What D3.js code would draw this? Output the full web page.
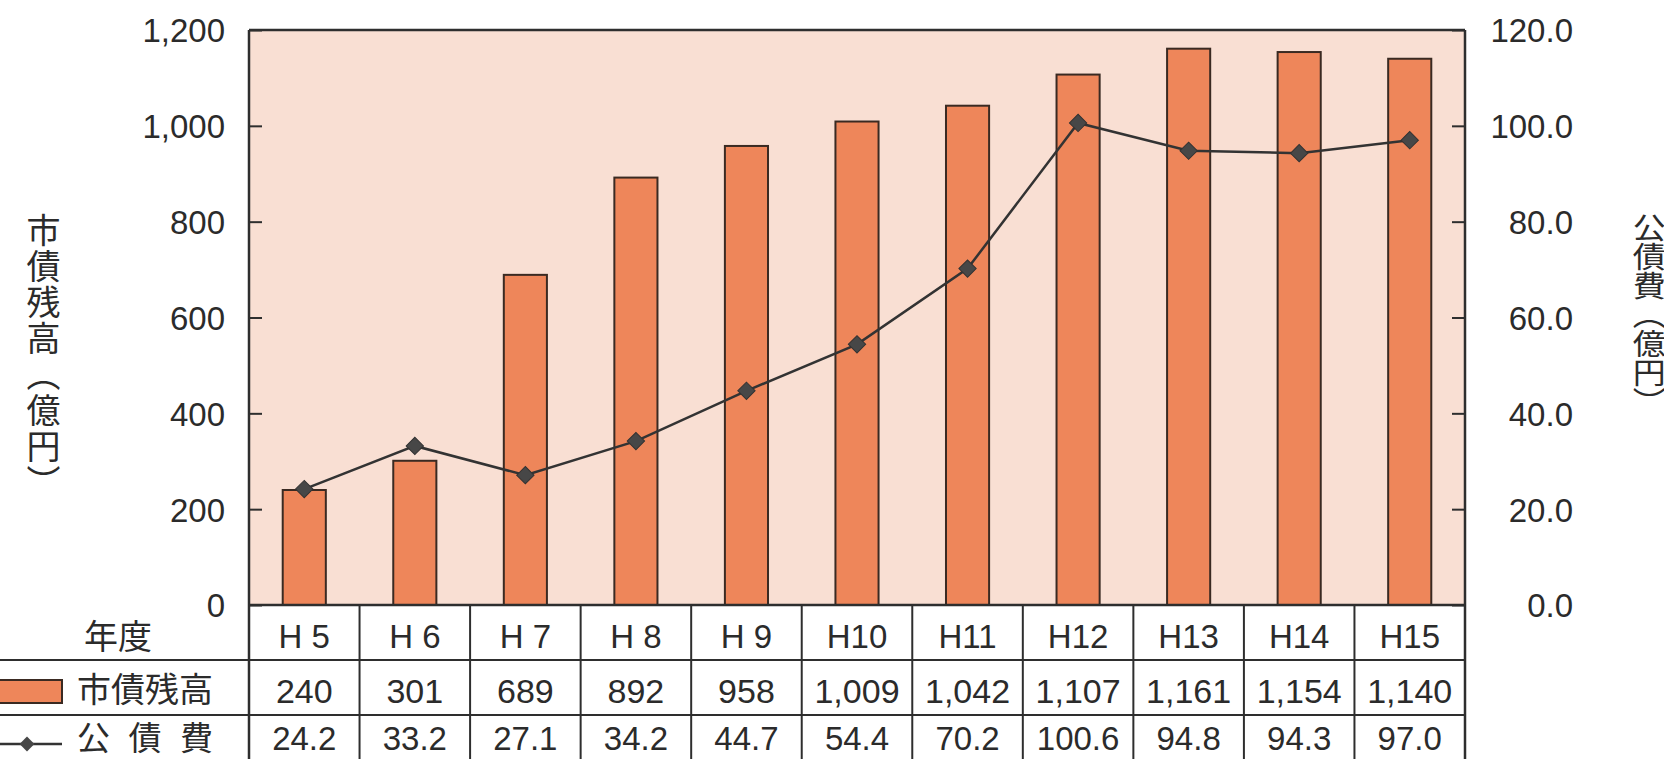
<!DOCTYPE html>
<html><head><meta charset="utf-8">
<script src="https://cdn.jsdelivr.net/npm/d3@7"></script>
<style>
html,body{margin:0;padding:0;background:#fff;}
svg{display:block;}
text{font-family:"Liberation Sans","Noto Sans CJK JP",sans-serif;fill:#2b2b2b;}
</style></head><body>
<svg id="chart" width="1664" height="759"></svg>
<script>
// ---- data ----
const years = ["H 5","H 6","H 7","H 8","H 9","H10","H11","H12","H13","H14","H15"];
const debtBalance = [240,301,689,892,958,1009,1042,1107,1161,1154,1140];   // 市債残高 (億円)
const debtService = [24.2,33.2,27.1,34.2,44.7,54.4,70.2,100.6,94.8,94.3,97.0]; // 公債費 (億円)
const leftTicks = [0,200,400,600,800,1000,1200];
const rightTicks = [0,20,40,60,80,100,120];
const headerLabel = "年度";
const seriesNames = ["市債残高","公債費"];
const leftTitle = "市債残高（億円）";
const rightTitle = "公債費（億円）";

// ---- layout ----
const W = 1664, H = 759;
const plotL = 249, plotR = 1465, plotT = 30, plotB = 605;
const rowH = 55;
const rows = [plotB, plotB + rowH, plotB + 2*rowH, plotB + 3*rowH];
const barColor = "#ee865a", bgColor = "#f9dfd3", ink = "#2e2e2e";

const svg = d3.select("#chart");

const x = d3.scaleBand().domain(years).range([plotL, plotR]).padding(0);
const yL = d3.scaleLinear().domain([0,1200]).range([plotB, plotT]);
const yR = d3.scaleLinear().domain([0,120]).range([plotB, plotT]);
const barW = x.bandwidth() * 0.39;

// plot background
svg.append("rect").attr("x", plotL).attr("y", plotT)
  .attr("width", plotR - plotL).attr("height", plotB - plotT).attr("fill", bgColor);

// bars
svg.append("g").selectAll("rect").data(years).join("rect")
  .attr("x", d => x(d) + x.bandwidth()/2 - barW/2)
  .attr("y", (d,i) => yL(debtBalance[i]))
  .attr("width", barW)
  .attr("height", (d,i) => plotB - yL(debtBalance[i]))
  .attr("fill", barColor).attr("stroke", "#3a2a22").attr("stroke-width", 2);

// line
const line = d3.line().x((d,i) => x(years[i]) + x.bandwidth()/2).y(d => yR(d));
svg.append("path").datum(debtService).attr("d", line)
  .attr("fill", "none").attr("stroke", "#333").attr("stroke-width", 2.5);
svg.append("g").selectAll("path").data(debtService).join("path")
  .attr("d", d3.symbol().type(d3.symbolSquare).size(150))
  .attr("transform", (d,i) => `translate(${x(years[i]) + x.bandwidth()/2},${yR(d)}) rotate(45)`)
  .attr("fill", "#474747").attr("stroke", "#333").attr("stroke-width", 1);

// left axis (inward ticks)
const axL = svg.append("g").attr("transform", `translate(${plotL},0)`)
  .call(d3.axisLeft(yL).tickValues(leftTicks).tickSize(-13).tickPadding(24).tickFormat(d3.format(",")));
axL.select(".domain").remove();
axL.selectAll("line").attr("stroke", ink).attr("stroke-width", 2);
axL.selectAll("text").attr("font-size", 33).attr("fill", "#2b2b2b").attr("dy", "0.36em");

// right axis
const axR = svg.append("g").attr("transform", `translate(${plotR},0)`)
  .call(d3.axisRight(yR).tickValues(rightTicks).tickSize(-13).tickFormat(d3.format(".1f")));
axR.select(".domain").remove();
axR.selectAll("line").attr("stroke", ink).attr("stroke-width", 2);
axR.selectAll("text").attr("font-size", 33).attr("fill", "#2b2b2b")
  .attr("text-anchor", "end").attr("x", 108).attr("dy", "0.36em");

// frame
svg.append("line").attr("x1", plotL).attr("x2", plotR).attr("y1", plotT).attr("y2", plotT)
  .attr("stroke", ink).attr("stroke-width", 2.5);
svg.append("line").attr("x1", plotL).attr("x2", plotR).attr("y1", plotB).attr("y2", plotB)
  .attr("stroke", ink).attr("stroke-width", 2.5);
svg.append("line").attr("x1", plotL).attr("x2", plotL).attr("y1", plotT).attr("y2", rows[3])
  .attr("stroke", ink).attr("stroke-width", 2.5);
svg.append("line").attr("x1", plotR).attr("x2", plotR).attr("y1", plotT).attr("y2", rows[3])
  .attr("stroke", ink).attr("stroke-width", 2.5);

// table grid
svg.append("g").selectAll("line").data(years.slice(1)).join("line")
  .attr("x1", d => x(d)).attr("x2", d => x(d))
  .attr("y1", plotB).attr("y2", rows[3])
  .attr("stroke", ink).attr("stroke-width", 2);
[rows[1], rows[2]].forEach(yy => {
  svg.append("line").attr("x1", 0).attr("x2", plotR).attr("y1", yy).attr("y2", yy)
    .attr("stroke", ink).attr("stroke-width", 2);
});

// table texts
const fmtInt = d3.format(",");
const fmt1 = d3.format(".1f");
const cx = d => x(d) + x.bandwidth()/2;
svg.append("g").selectAll("text").data(years).join("text")
  .attr("x", cx).attr("y", (rows[0]+rows[1])/2 + 4).attr("dy", "0.36em")
  .attr("text-anchor", "middle").attr("font-size", 33).text(d => d);
svg.append("g").selectAll("text").data(years).join("text")
  .attr("x", cx).attr("y", (rows[1]+rows[2])/2 + 3).attr("dy", "0.36em")
  .attr("text-anchor", "middle").attr("font-size", 34).text((d,i) => fmtInt(debtBalance[i]));
svg.append("g").selectAll("text").data(years).join("text")
  .attr("x", cx).attr("y", 750)
  .attr("text-anchor", "middle").attr("font-size", 33).text((d,i) => fmt1(debtService[i]));

// row headers
svg.append("text").attr("x", 118).attr("y", 637).attr("dy", "0.36em")
  .attr("text-anchor", "middle").attr("font-size", 34).text(headerLabel);
svg.append("rect").attr("x", -3).attr("y", 680).attr("width", 65).attr("height", 23)
  .attr("fill", barColor).attr("stroke", "#3a2a22").attr("stroke-width", 2);
svg.append("text").attr("x", 77).attr("y", 690).attr("dy", "0.36em")
  .attr("font-size", 34).attr("textLength", 136).attr("lengthAdjust", "spacing").text(seriesNames[0]);
svg.append("line").attr("x1", 0).attr("x2", 62).attr("y1", 744).attr("y2", 744)
  .attr("stroke", "#333").attr("stroke-width", 2.5);
svg.append("path").attr("d", d3.symbol().type(d3.symbolSquare).size(110))
  .attr("transform", "translate(27,744) rotate(45)").attr("fill", "#474747");
svg.append("text").attr("x", 77).attr("y", 750)
  .attr("font-size", 33).attr("textLength", 136).attr("lengthAdjust", "spacing").text(seriesNames[1]);

// axis titles (vertical)
svg.append("text").attr("x", 41).attr("y", 213)
  .style("writing-mode", "vertical-rl").attr("font-size", 34).attr("letter-spacing", 2)
  .attr("font-family", "Noto Sans CJK JP").text(leftTitle);
svg.append("g").attr("transform", "translate(1646,213) scale(1,0.88)")
  .append("text").attr("x", 0).attr("y", 0)
  .style("writing-mode", "vertical-rl").attr("font-size", 33)
  .attr("font-family", "Noto Sans CJK JP").text(rightTitle);
</script>
</body></html>
